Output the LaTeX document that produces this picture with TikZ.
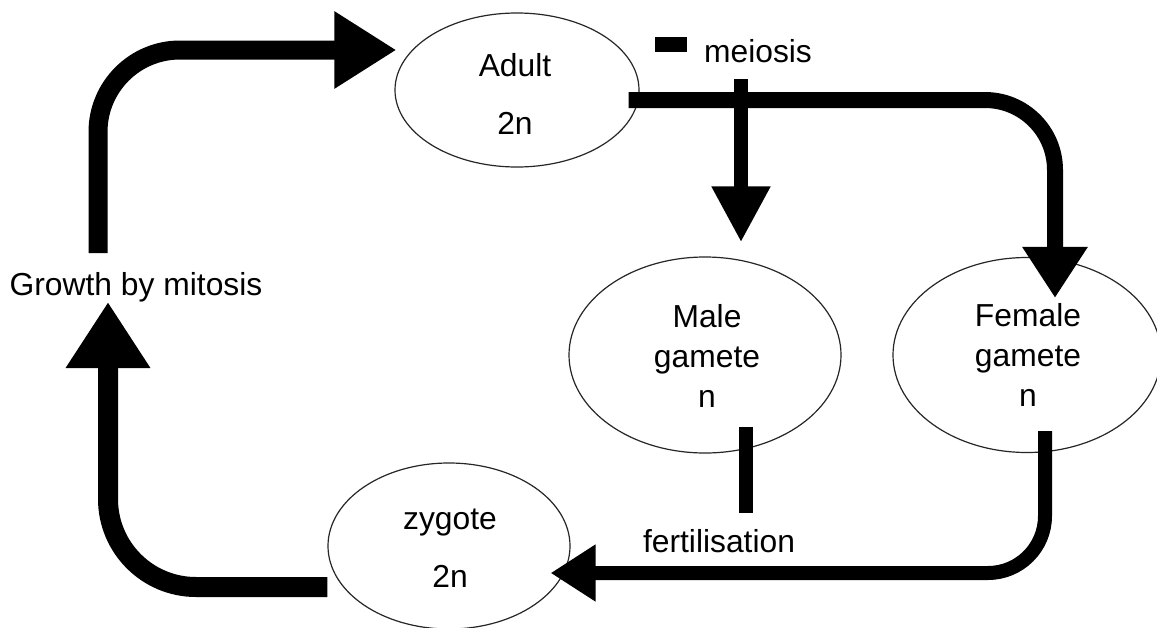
\documentclass[tikz,border=0pt]{standalone}
\usepackage{fontspec}
\setmainfont{Liberation Sans}
\usetikzlibrary{arrows.meta,shapes.geometric,calc}
\begin{document}
\begin{tikzpicture}[x=0.5pt,y=-0.5pt,
  stage/.style={ellipse, draw=black!85, line width=0.6pt, inner sep=0pt},
  word/.style={inner sep=0pt, font=\fontsize{15.9pt}{19pt}\selectfont},
  pair/.style={inner sep=0pt, align=center, font=\fontsize{15.9pt}{29pt}\selectfont},
  trio/.style={inner sep=0pt, align=center, font=\fontsize{15.9pt}{20pt}\selectfont},
  band/.style={line width=#1, line cap=butt, line join=round, draw=black},
]
% canvas
\fill[white] (0,0) rectangle (1157,627);
\useasboundingbox (0,0) rectangle (1157,627);

% life-cycle stages
\node[stage, minimum width=122pt, minimum height=77pt] (adult) at (517,90) {};
\node[stage, minimum width=136pt, minimum height=98pt] (male) at (705,355) {};
\node[stage, minimum width=134pt, minimum height=97.5pt] (female) at (1027,355) {};
\node[stage, minimum width=121pt, minimum height=83pt] (zygote) at (449,546) {};

\node[pair] (adult-t) at (515,94) {Adult\\2n};
\node[trio] (male-t) at (707,355.5) {Male\\gamete\\n};
\node[trio] (female-t) at (1028,354.5) {Female\\gamete\\n};
\node[pair] (zygote-t) at (450,548) {zygote\\2n};

% process labels
\node[word, anchor=base] (growth) at (136,295) {Growth by mitosis};
\node[word, anchor=base] (meiosis) at (758,62) {meiosis};
\node[word, anchor=base] (fert) at (719,552) {fertilisation};

% free ends of the open strokes
\coordinate (g-top) at (98,253);
\coordinate (mei-top) at (741,79);
\coordinate (fert-end) at (746,513);
\coordinate (dash-a) at (655,44.5);
\coordinate (dash-b) at (687,44.5);

% zygote -> growth
\draw[band=10pt, -{Triangle[length=33pt,width=40pt]}, rounded corners=44pt]
  (zygote.west |- 0,587) -| (growth.south -| 108,0);
% growth -> adult
\draw[band=9.5pt, -{Triangle[length=31pt,width=36.5pt]}, rounded corners=41pt]
  (g-top) |- ($(adult.west)+(2,-40)$);
% adult -> female gamete
\draw[band=8pt, -{Triangle[length=25.5pt,width=31pt]}, rounded corners=35pt]
  ($(adult.east)+(-11,10)$) -| ($(female.north)+(28,41)$);
% meiosis branch -> male gamete
\draw[band=7pt, -{Triangle[length=28pt,width=27.5pt]}]
  (mei-top) -- ($(male.north)+(36,-14)$);
% female gamete -> zygote
\draw[band=7pt, -{Triangle[length=22.5pt,width=27pt]}, rounded corners=28.5pt]
  ($(female.south)+(18,-22)$) |- ($(zygote.east)+(-20,27)$);
% male gamete stroke towards fertilisation
\draw[band=7pt] ($(male.south)+(41,-27)$) -- (fert-end);
% short bar beside the meiosis label
\draw[band=7.5pt] (dash-a) -- (dash-b);
\end{tikzpicture}
\end{document}
